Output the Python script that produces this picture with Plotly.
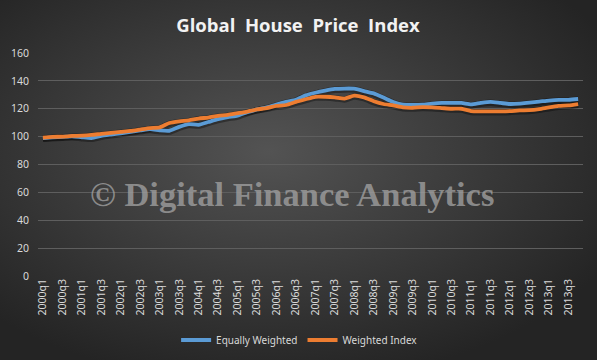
import base64
import plotly.graph_objects as go

# ---- data ----
years = list(range(2000, 2014))
quarters = [f"{y}q{q}" for y in years for q in (1, 2, 3, 4)]
tick_labels = [f"{y}q{q}" for y in years for q in (1, 3)]

equally_weighted = [99.0, 99.5, 99.8, 100.2, 99.5, 99.0, 100.5, 101.5, 102.4, 103.4, 104.4, 105.4,
                    104.5, 104.2, 107.0, 109.0, 108.5, 110.5, 112.5, 114.0, 115.0, 117.5, 119.5, 121.0,
                    123.0, 125.0, 126.5, 129.6, 131.5, 133.0, 134.2, 134.5, 134.4, 132.7, 131.0, 128.0,
                    124.9, 122.9, 122.7, 122.9, 123.7, 124.2, 124.2, 124.2, 123.2, 124.2, 124.9, 124.2,
                    123.4, 123.7, 124.4, 125.1, 125.9, 126.4, 126.4, 127.0]
weighted_index = [99.3, 99.8, 100.0, 100.5, 100.7, 101.2, 102.0, 102.7, 103.4, 104.1, 105.1, 106.1,
                  106.6, 109.8, 111.0, 111.7, 113.0, 113.7, 114.9, 115.6, 116.8, 118.0, 119.5, 120.5,
                  122.0, 122.7, 124.9, 126.8, 128.6, 128.6, 128.2, 127.3, 129.4, 128.2, 125.4, 123.4,
                  122.4, 121.0, 120.7, 121.2, 121.0, 120.5, 120.0, 120.0, 118.3, 118.1, 118.1, 118.1,
                  118.3, 118.8, 119.0, 119.8, 121.0, 122.0, 122.4, 123.4]

W, H = 597, 360
ML, MR, MT, MB = 38, 14, 53, 84
PW, PH = W - ML - MR, H - MT - MB

# background radial gradient (styling only)
svg = f'''<svg xmlns="http://www.w3.org/2000/svg" width="{W}" height="{H}" viewBox="0 0 {W} {H}" preserveAspectRatio="none">
<defs><radialGradient id="g" cx="45%" cy="42%" r="65%">
<stop offset="0%" stop-color="#535353"/><stop offset="100%" stop-color="#242424"/>
</radialGradient></defs><rect width="{W}" height="{H}" fill="url(#g)"/></svg>'''
bg_src = "data:image/svg+xml;base64," + base64.b64encode(svg.encode()).decode()

fig = go.Figure()

# soft shadows under lines
for vals in (equally_weighted, weighted_index):
    fig.add_trace(go.Scatter(x=quarters, y=[v - 0.6 for v in vals], mode="lines",
                             line=dict(color="rgba(0,0,0,0.35)", width=6.5, shape="spline", smoothing=0.6),
                             showlegend=False, hoverinfo="skip"))

fig.add_trace(go.Scatter(x=quarters, y=equally_weighted, mode="lines", name="Equally Weighted",
                         line=dict(color="#5B9BD5", width=3.8, shape="spline", smoothing=0.6)))
fig.add_trace(go.Scatter(x=quarters, y=weighted_index, mode="lines", name="Weighted Index",
                         line=dict(color="#ED7D31", width=3.8, shape="spline", smoothing=0.6)))

font_family = "Noto Sans, Open Sans, sans-serif"
label_color = "#d9d9d9"

fig.update_layout(
    width=W, height=H,
    margin=dict(l=ML, r=MR, t=MT, b=MB, autoexpand=False),
    paper_bgcolor="#363636",
    plot_bgcolor="rgba(0,0,0,0)",
    title=dict(text="Global\u00a0 House\u00a0 Price\u00a0 Index", x=298 / W, xanchor="center",
               y=1 - 26 / H, yanchor="middle",
               font=dict(family="Open Sans, Noto Sans, sans-serif", size=18.5, color="#f2f2f2",
                         weight="bold")),
    images=[dict(source=bg_src, xref="paper", yref="paper",
                 x=-ML / PW, y=1 + MT / PH, sizex=W / PW, sizey=H / PH,
                 xanchor="left", yanchor="top", sizing="stretch", layer="below")],
    showlegend=True,
    legend=dict(orientation="h", x=0.48, xanchor="center", y=-(340 - 276) / PH, yanchor="middle",
                font=dict(family=font_family, size=10, color=label_color),
                bgcolor="rgba(0,0,0,0)", itemwidth=30, tracegroupgap=0),
    annotations=[dict(text="\u00a9 Digital Finance Analytics", xref="paper", yref="paper",
                      x=(292 - ML) / PW, y=(276 - 215) / PH, showarrow=False,
                      font=dict(family="Liberation Serif, DejaVu Serif, serif", size=34.5,
                                color="rgba(160,160,160,0.8)", weight="bold"))],
)

fig.update_xaxes(type="category", categoryorder="array", categoryarray=quarters,
                 tickmode="array", tickvals=tick_labels, ticktext=tick_labels,
                 tickangle=-90, showgrid=False, showline=False, zeroline=False, ticks="",
                 automargin=False,
                 tickfont=dict(family=font_family, size=10.5, color=label_color),
                 range=[-0.5, len(quarters) - 0.5])
fig.update_yaxes(range=[0, 160], dtick=20, showgrid=True, gridcolor="#5e5e5e", gridwidth=1,
                 zeroline=False, showline=False, ticks="", ticklabelstandoff=8, automargin=False,
                 tickfont=dict(family=font_family, size=10.5, color=label_color))

fig.write_html("out.html", config={"displayModeBar": False},
               post_script="document.body.style.margin='0';document.body.style.overflow='hidden';")
